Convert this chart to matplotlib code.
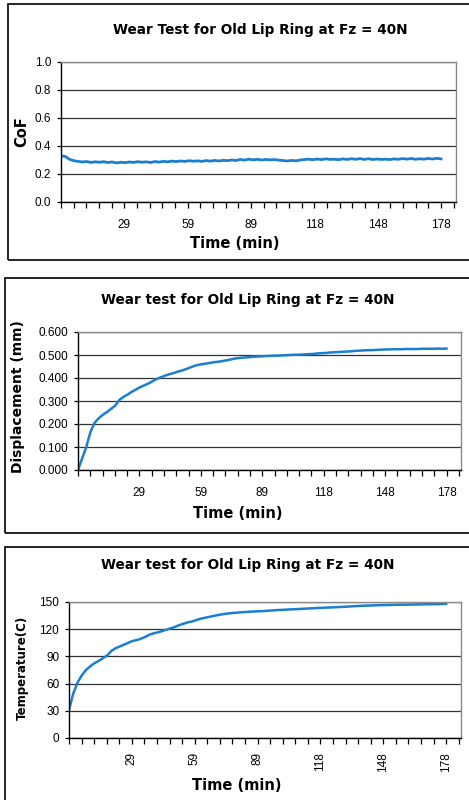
import matplotlib
matplotlib.use("Agg")
import matplotlib.pyplot as plt
from matplotlib.patches import Rectangle
from matplotlib.ticker import FixedLocator, FixedFormatter, MultipleLocator, FormatStrFormatter

W, H = 469, 800

# ---- data -------------------------------------------------------------
time_min = list(range(0, 180, 2))

cof = [0.330, 0.325, 0.305, 0.295, 0.290, 0.286, 0.289, 0.283, 0.287, 0.284,
       0.288, 0.282, 0.286, 0.279, 0.284, 0.281, 0.286, 0.283, 0.288, 0.284,
       0.287, 0.282, 0.289, 0.285, 0.290, 0.287, 0.292, 0.289, 0.293, 0.290,
       0.295, 0.291, 0.294, 0.290, 0.296, 0.292, 0.297, 0.293, 0.298, 0.295,
       0.300, 0.296, 0.304, 0.299, 0.306, 0.301, 0.305, 0.300, 0.304, 0.301,
       0.303, 0.299, 0.296, 0.293, 0.297, 0.294, 0.300, 0.303, 0.306, 0.302,
       0.307, 0.303, 0.308, 0.304, 0.306, 0.302, 0.308, 0.304, 0.309, 0.305,
       0.310, 0.304, 0.309, 0.303, 0.307, 0.304, 0.306, 0.303, 0.308, 0.305,
       0.310, 0.306, 0.311, 0.305, 0.309, 0.306, 0.311, 0.307, 0.312, 0.308]

displacement = [0.000, 0.050, 0.100, 0.165, 0.205, 0.225, 0.240, 0.252, 0.266, 0.280,
                0.305, 0.318, 0.328, 0.340, 0.350, 0.360, 0.368, 0.376, 0.386, 0.396,
                0.403, 0.410, 0.416, 0.421, 0.427, 0.432, 0.438, 0.445, 0.452, 0.457,
                0.460, 0.463, 0.466, 0.469, 0.471, 0.474, 0.477, 0.481, 0.485, 0.487,
                0.489, 0.490, 0.492, 0.493, 0.494, 0.495, 0.496, 0.497, 0.497, 0.498,
                0.499, 0.500, 0.501, 0.501, 0.502, 0.503, 0.504, 0.505, 0.507, 0.508,
                0.509, 0.511, 0.512, 0.513, 0.514, 0.515, 0.516, 0.518, 0.519, 0.520,
                0.521, 0.521, 0.522, 0.523, 0.524, 0.524, 0.525, 0.525, 0.525, 0.526,
                0.526, 0.526, 0.526, 0.527, 0.527, 0.527, 0.527, 0.528, 0.527, 0.528]

temperature = [31, 49, 61, 69, 75, 79, 82.5, 85, 88, 91,
               96, 99, 101, 103, 105, 107, 108, 109.5, 111.5, 114,
               115.5, 116.5, 118, 119.5, 121, 122.5, 124.5, 126, 127.5, 128.5,
               130, 131.5, 132.5, 133.5, 134.5, 135.5, 136.3, 137, 137.6, 138,
               138.4, 138.8, 139.1, 139.4, 139.6, 139.8, 140, 140.4, 140.7, 141,
               141.3, 141.5, 141.8, 142, 142.2, 142.5, 142.7, 143, 143.2, 143.5,
               143.6, 143.9, 144, 144.3, 144.5, 144.7, 145, 145.3, 145.5, 145.8,
               146, 146.1, 146.3, 146.5, 146.6, 146.7, 146.8, 146.9, 147, 147,
               147.1, 147.2, 147.3, 147.4, 147.5, 147.5, 147.6, 147.7, 147.8, 148]

x_tick_labels = ["29", "59", "89", "118", "148", "178"]

LINE = "#1a7fd0"
TICK_FONT = "Liberation Sans"
LABEL_FONT = "DejaVu Sans"

fig = plt.figure(figsize=(W / 100, H / 100), dpi=100)


def px_axes(left, top, right, bottom):
    return fig.add_axes([left / W, 1 - bottom / H, (right - left) / W, (bottom - top) / H])


def frame(left, top, bottom):
    fig.add_artist(Rectangle((left / W, 1 - bottom / H), (W + 20 - left) / W, (bottom - top) / H,
                             transform=fig.transFigure, fill=False, edgecolor="black", lw=1.2))


def style(ax, ymax, ystep, yfmt, rotate=False):
    ax.set_xlim(0, 185)
    ax.set_ylim(0, ymax)
    step = 178 / 30
    minor = [i * step for i in range(32)]
    major = [step * 5 * (k + 1) for k in range(len(x_tick_labels))]
    ax.xaxis.set_major_locator(FixedLocator(major))
    ax.xaxis.set_major_formatter(FixedFormatter(x_tick_labels))
    ax.xaxis.set_minor_locator(FixedLocator(minor))
    ax.yaxis.set_major_locator(MultipleLocator(ystep))
    ax.yaxis.set_major_formatter(FormatStrFormatter(yfmt))
    ax.tick_params(axis="x", which="both", direction="out", length=4, width=0.9, color="black")
    ax.tick_params(axis="x", which="major", pad=8 if not rotate else 6, labelsize=8.5,
                   labelrotation=90 if rotate else 0)
    ax.tick_params(axis="y", direction="out", length=3, width=0.9, labelsize=8.5, pad=4)
    for lab in ax.get_xticklabels() + ax.get_yticklabels():
        lab.set_fontfamily(TICK_FONT)
    ax.grid(axis="y", color="#333333", lw=0.9)
    ax.set_axisbelow(True)
    ax.spines["left"].set_color("black")
    ax.spines["bottom"].set_color("black")
    ax.spines["top"].set_color("#8a8a8a")
    ax.spines["right"].set_color("#8a8a8a")
    for s in ax.spines.values():
        s.set_linewidth(1.0)


def txt(x, y, s, size, rot=0):
    fig.text(x / W, 1 - y / H, s, ha="center", va="center", fontsize=size,
             fontweight="bold", family=LABEL_FONT, rotation=rot)


# ---- panel 1: coefficient of friction ----------------------------------
frame(8, 4, 260)
ax1 = px_axes(61, 62, 456, 202)
ax1.plot(time_min, cof, color=LINE, lw=2.0)
style(ax1, 1.0, 0.2, "%.1f")
txt(260, 30, "Wear Test for Old Lip Ring at Fz = 40N", 9.8)
txt(235, 244, "Time (min)", 10.5)
txt(22, 132, "CoF", 10.5, rot=90)

# ---- panel 2: displacement --------------------------------------------
frame(5, 278, 533)
ax2 = px_axes(78, 332, 461, 470)
ax2.plot(time_min, displacement, color=LINE, lw=1.8)
style(ax2, 0.6, 0.1, "%.3f")
txt(248, 300, "Wear test for Old Lip Ring at Fz = 40N", 9.8)
txt(238, 514, "Time (min)", 10.5)
txt(18, 397, "Displacement (mm)", 10, rot=90)

# ---- panel 3: temperature ---------------------------------------------
frame(5, 547, 810)
ax3 = px_axes(69, 602, 461, 738)
ax3.plot(time_min, temperature, color=LINE, lw=1.8)
style(ax3, 150, 30, "%d", rotate=True)
txt(248, 565, "Wear test for Old Lip Ring at Fz = 40N", 9.8)
txt(237, 785, "Time (min)", 10.5)
txt(22, 668, "Temperature(C)", 8.5, rot=90)

fig.savefig("out.png", dpi=100)
